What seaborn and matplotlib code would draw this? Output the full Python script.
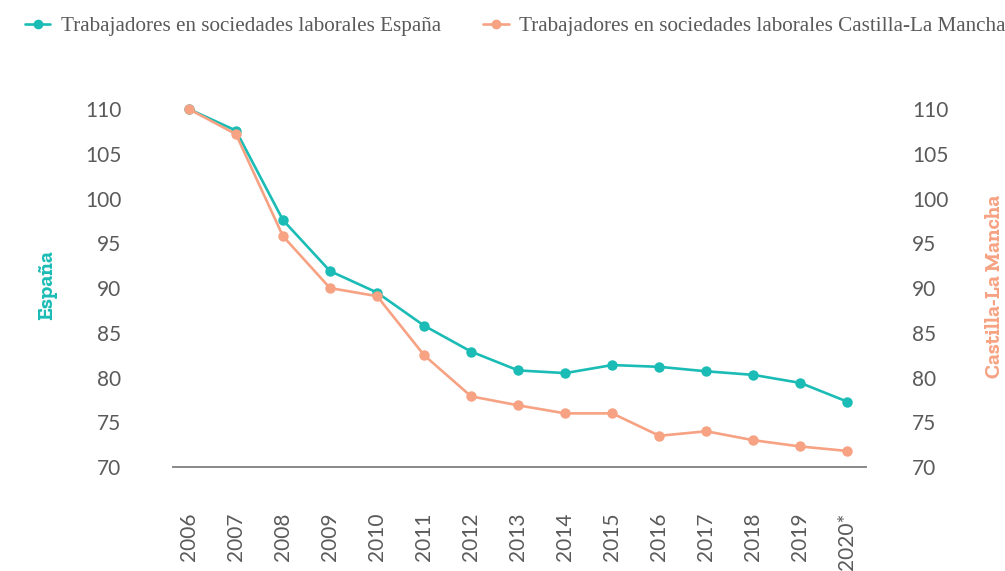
import matplotlib
matplotlib.use("Agg")
import matplotlib.pyplot as plt
import seaborn as sns
import pandas as pd
from matplotlib.lines import Line2D
from matplotlib.font_manager import FontProperties

years = ['2006', '2007', '2008', '2009', '2010', '2011', '2012', '2013',
         '2014', '2015', '2016', '2017', '2018', '2019', '2020*']
espana = [110.0, 107.6, 97.6, 91.9, 89.5, 85.8, 82.9, 80.8,
          80.5, 81.4, 81.2, 80.7, 80.3, 79.4, 77.3]
castilla = [110.0, 107.2, 95.8, 90.0, 89.1, 82.5, 77.9, 76.9,
            76.0, 76.0, 73.5, 74.0, 73.0, 72.3, 71.8]

teal = '#1ABCB5'
salmon = '#F6A283'
grey = '#5a5a5a'

df = pd.DataFrame({'Year': years, 'Espana': espana, 'Castilla': castilla})

sns.set_theme(style='white')
plt.rcParams['font.family'] = ['Lato', 'DejaVu Sans']

fig = plt.figure(figsize=(10.05, 5.71), dpi=100)
ax = fig.add_axes([0.172, 0.182, 0.690, 0.627])
ax2 = ax.twinx()

sns.lineplot(data=df, x='Year', y='Espana', ax=ax, color=teal, marker='o',
             markersize=7.5, markeredgewidth=0, linewidth=1.9, sort=False)
sns.lineplot(data=df, x='Year', y='Castilla', ax=ax2, color=salmon, marker='o',
             markersize=7.5, markeredgewidth=0, linewidth=1.9, sort=False)

for a in (ax, ax2):
    a.set_ylim(70, 110)
    a.set_yticks(range(70, 111, 5))
    a.set_xlim(-0.34, 14.4)
    for s in ['top', 'left', 'right']:
        a.spines[s].set_visible(False)
    a.spines['bottom'].set_color('#888888')
    a.spines['bottom'].set_linewidth(1.2)
    a.tick_params(length=0, labelsize=15, colors=grey)
    a.set_xlabel('')
    a.set_ylabel('')
    for line in a.lines:
        line.set_clip_on(False)

ax.tick_params(axis='y', pad=37)
ax2.tick_params(axis='y', pad=33)
ax.tick_params(axis='x', pad=33, rotation=90, labelsize=15)
ax2.tick_params(axis='x', labelbottom=False)

# bold slab serif for the two axis titles
label_font = FontProperties(family='Zilla Slab', weight='bold', size=15.5)
fig.text(0.047, 0.50, 'España', rotation=90, color=teal,
         fontproperties=label_font, ha='center', va='center')
fig.text(0.990, 0.499, 'Castilla-La Mancha', rotation=90, color=salmon,
         fontproperties=label_font, ha='center', va='center')

handles = [Line2D([], [], color=teal, marker='o', markersize=6, linewidth=1.9),
           Line2D([], [], color=salmon, marker='o', markersize=6, linewidth=1.9)]
labels = ['Trabajadores en sociedades laborales España',
          'Trabajadores en sociedades laborales Castilla-La Mancha']
fig.legend(handles, labels, loc='upper left', bbox_to_anchor=(0.006, 1.005), ncol=2,
           frameon=False, handlelength=1.2, handletextpad=0.5, columnspacing=2.0,
           prop={'family': 'Liberation Serif', 'size': 15.2}, labelcolor=grey)

fig.savefig('out.png', dpi=100)
